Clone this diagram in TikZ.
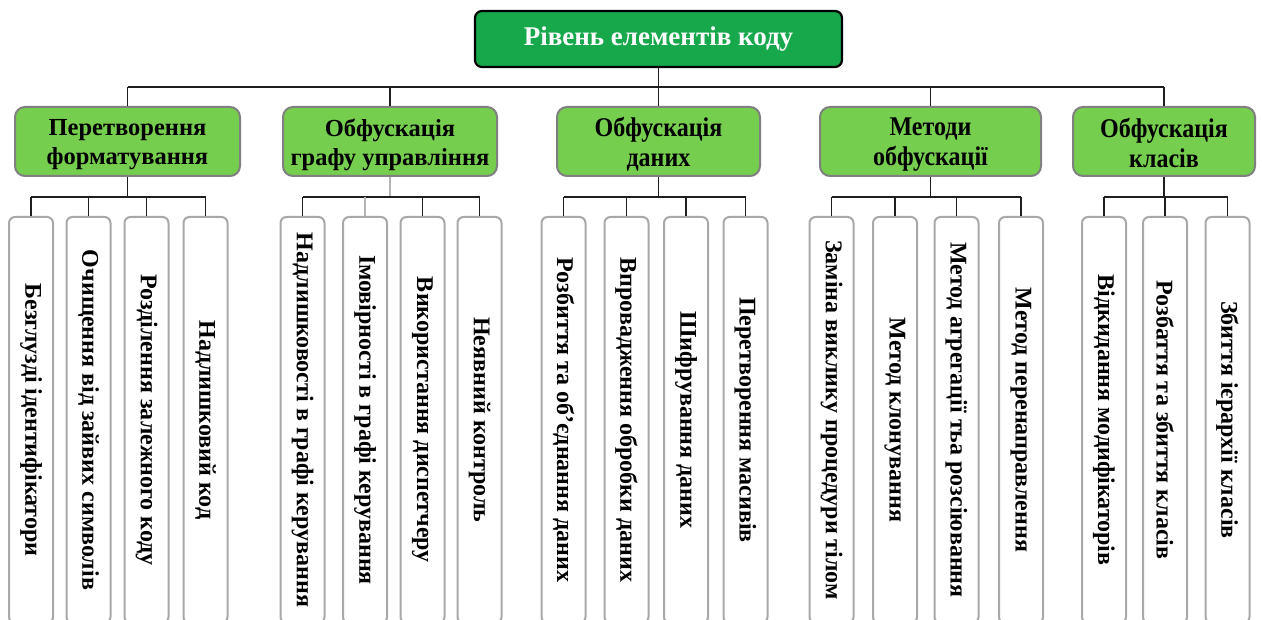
\documentclass[tikz,border=0pt]{standalone}
\usepackage{fontspec}
\setmainfont{Liberation Serif}
\newfontfamily\tallserif[FakeStretch=0.89]{Liberation Serif}
\definecolor{topgreen}{RGB}{24,168,76}
\definecolor{catgreen}{RGB}{118,206,78}
\definecolor{catgray}{RGB}{128,128,128}
\definecolor{leafgray}{RGB}{168,168,168}
\definecolor{linkc}{RGB}{30,30,30}
\definecolor{faintlink}{RGB}{180,180,180}
\begin{document}
\begin{tikzpicture}[x=1pt,y=-1pt,
  topbox/.style={draw=black, line width=2.2pt, rounded corners=7pt, fill=topgreen,
    text=white, font=\fontsize{27}{32}\selectfont\bfseries,
    minimum width=367pt, minimum height=56pt, inner sep=0pt},
  catbox/.style={draw=catgray, line width=2pt, rounded corners=10pt, fill=catgreen,
    minimum height=69pt, inner sep=0pt},
  cattext/.style={align=center, inner sep=0pt,
    font=\fontsize{24.5}{29}\selectfont\bfseries},
  tallcattext/.style={align=center, inner sep=0pt,
    font=\fontsize{27}{30}\selectfont\tallserif\bfseries},
  leafbox/.style={draw=leafgray, line width=2pt, rounded corners=6pt, fill=white,
    rotate=-90, font=\fontsize{24}{28}\selectfont\bfseries,
    minimum width=406pt, minimum height=44pt, inner sep=0pt},
  link/.style={draw=linkc, line width=1.3pt},
  faint/.style={draw=faintlink, line width=1.3pt},
]
\useasboundingbox (0,0) rectangle (1262,620);

% root
\node[topbox] (root) at (658.5,39) {Рівень елементів коду};

% category boxes
\node[catbox, minimum width=225pt] (c1) at (127.5,141.5) {};
\node[catbox, minimum width=214pt] (c2) at (390,141.5) {};
\node[catbox, minimum width=203pt] (c3) at (658.5,141.5) {};
\node[catbox, minimum width=221pt] (c4) at (930.5,141.5) {};
\node[catbox, minimum width=182pt] (c5) at (1164,141.5) {};

% category titles
\node[cattext] (c1t) at ([yshift=-3pt]c1.center) {Перетворення\\форматування};
\node[cattext] (c2t) at ([yshift=-3pt]c2.center) {Обфускація\\графу управління};
\node[tallcattext] (c3t) at ([yshift=-3pt]c3.center) {Обфускація\\даних};
\node[tallcattext] (c4t) at ([yshift=-3pt]c4.center) {Методи\\обфускації};
\node[tallcattext] (c5t) at ([yshift=-1pt]c5.center) {Обфускація\\класів};

% leaves
\node[leafbox] (l11) at (31,420) {Безглузді ідентифікатори};
\node[leafbox] (l12) at (88.5,420) {Очищення від зайвих символів};
\node[leafbox] (l13) at (146.5,420) {Розділення залежного коду};
\node[leafbox] (l14) at (205.5,420) {Надлишковий код};

\node[leafbox] (l21) at (302.5,420) {Надлишковості в графі керування};
\node[leafbox] (l22) at (365,420) {Імовірності в графі керування};
\node[leafbox] (l23) at (422.5,420) {Використання диспетчеру};
\node[leafbox] (l24) at (479.5,420) {Неявний контроль};

\node[leafbox] (l31) at (563.5,420) {Розбиття та об’єднання даних};
\node[leafbox] (l32) at (626.5,420) {Впровадження обробки даних};
\node[leafbox] (l33) at (686,420) {Шифрування даних};
\node[leafbox] (l34) at (745.5,420) {Перетворення масивів};

\node[leafbox] (l41) at (831.5,420) {Заміна виклику процедури тілом};
\node[leafbox] (l42) at (895,420) {Метод клонування};
\node[leafbox] (l43) at (956.5,420) {Метод агрегації тьа розсіювання};
\node[leafbox] (l44) at (1021,420) {Метод перенаправлення};

\node[leafbox] (l51) at (1104,420) {Відкидання модифікаторів};
\node[leafbox] (l52) at (1165,420) {Розбаття та збиття класів};
\node[leafbox] (l53) at (1227.5,420) {Збиття ієрархії класів};

% bus levels
\coordinate (bus) at (0,87);
\coordinate (sub) at (0,197);

% root to categories
\draw[link] (root.south) -- (root.south |- bus);
\draw[link] (c1.north |- bus) -- (c5.north |- bus);
\foreach \c in {c1,c2,c3,c4,c5}
  \draw[link] (\c.north |- bus) -- (\c.north);

% categories to leaves
\draw[link] (c1.south) -- (c1.south |- sub);
\draw[link] (l11.west |- sub) -- (l14.west |- sub);
\foreach \l in {l11,l12,l13,l14}
  \draw[link] (\l.west |- sub) -- (\l.west);

\draw[faint] (c2.south) -- (c2.south |- sub);
\draw[link] (l21.west |- sub) -- (l24.west |- sub);
\foreach \l in {l21,l23,l24}
  \draw[link] (\l.west |- sub) -- (\l.west);
\draw[faint] (l22.west |- sub) -- (l22.west);

\draw[link] (c3.south) -- (c3.south |- sub);
\draw[link] (l31.west |- sub) -- (l34.west |- sub);
\foreach \l in {l31,l32,l33,l34}
  \draw[link] (\l.west |- sub) -- (\l.west);

\draw[link] (c4.south) -- (c4.south |- sub);
\draw[link] (l41.west |- sub) -- (l44.west |- sub);
\foreach \l in {l41,l42,l43,l44}
  \draw[link] (\l.west |- sub) -- (\l.west);

\draw[link] (c5.south) -- (c5.south |- sub);
\draw[link] (l51.west |- sub) -- (l53.west |- sub);
\foreach \l in {l51,l52,l53}
  \draw[link] (\l.west |- sub) -- (\l.west);
\end{tikzpicture}
\end{document}
